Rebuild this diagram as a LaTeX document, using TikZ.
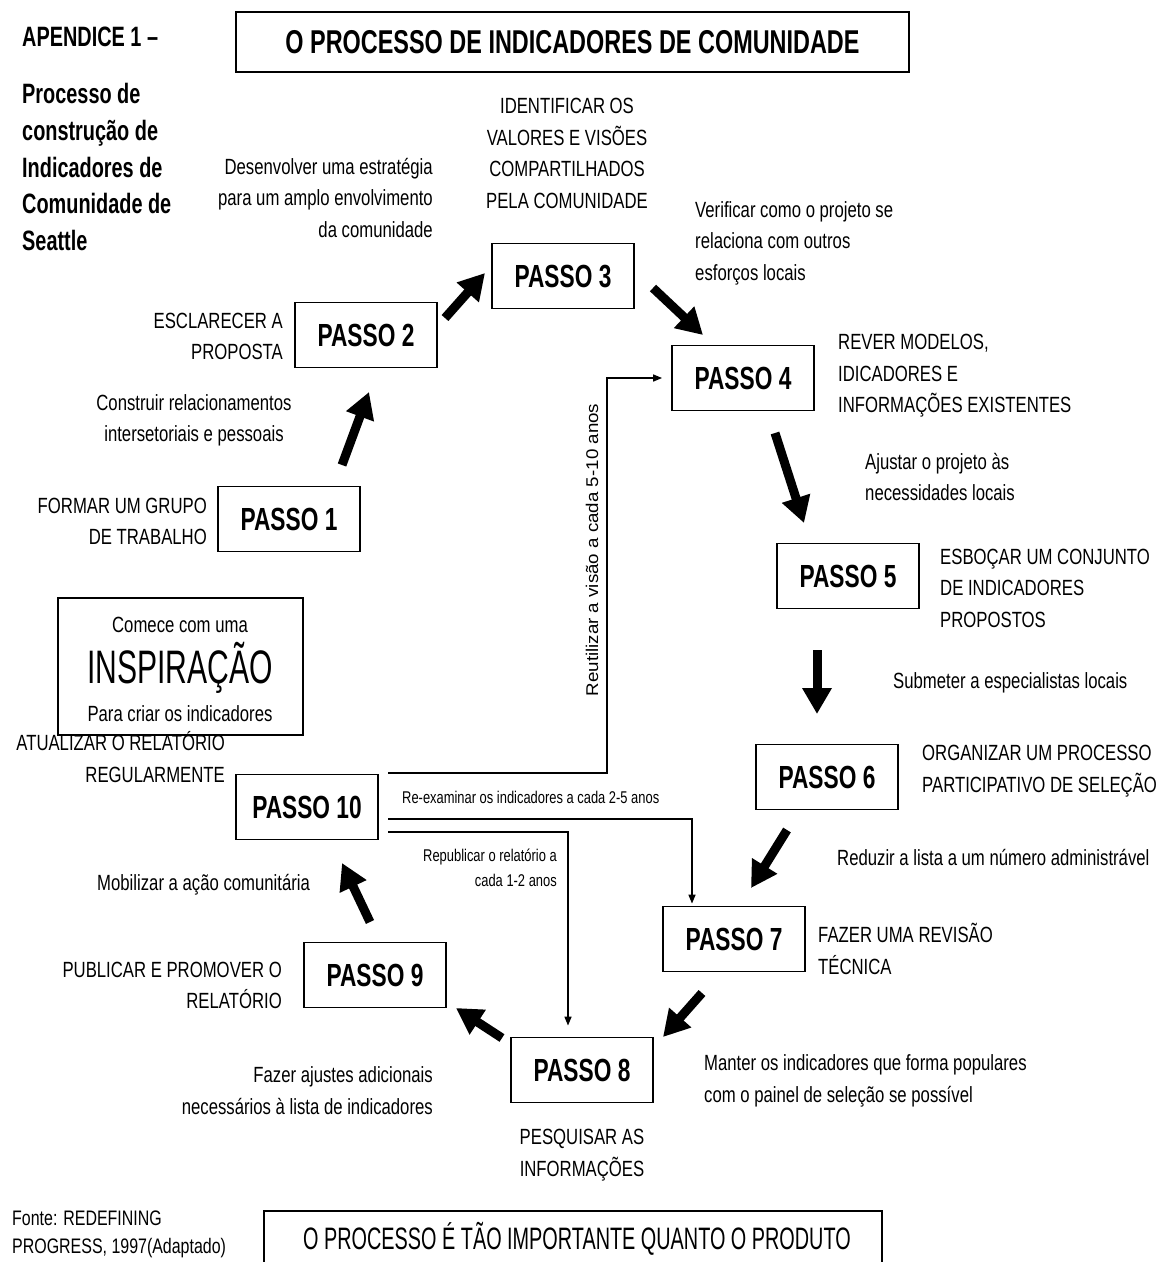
\documentclass[tikz,border=0pt]{standalone}
\usepackage{fontspec}
\usepackage{graphicx}
\setmainfont{Liberation Sans}
\newfontfamily\nf[FakeStretch=0.76]{Liberation Sans}
\newfontfamily\bnf[FakeStretch=0.71]{Liberation Sans}
\newfontfamily\cnf[FakeStretch=0.64]{Liberation Sans}
\usetikzlibrary{arrows.meta}
\tikzset{
  passo/.style={draw, line width=1.8pt, minimum width=142pt, minimum height=65pt, inner sep=0pt,
    font=\bnf\bfseries\fontsize{32}{32}\selectfont},
  lbl/.style={font=\nf\fontsize{22}{31.5}\selectfont, inner sep=0pt},
  smalllbl/.style={font=\nf\fontsize{17}{25}\selectfont, inner sep=0pt},
  bigarrow/.style={-{Triangle[length=26pt,width=28pt]}, line width=9pt},
  thinarrow/.style={-{Triangle[length=9pt,width=7pt]}, line width=1.5pt},
  framebox/.style={draw, line width=1.8pt, inner sep=0pt}
}
\begin{document}
\begin{tikzpicture}[x=1pt,y=-1pt]
\useasboundingbox (0,0) rectangle (1168,1262);
\fill[white] (0,0) rectangle (1168,1262);
\clip (0,0) rectangle (1168,1262);

% title
\node[framebox, minimum width=673pt, minimum height=60pt,
  font=\bnf\bfseries\fontsize{33}{33}\selectfont] (title) at (572.5,42) {O PROCESSO DE INDICADORES DE COMUNIDADE};

\node[anchor=west, inner sep=0pt, font=\bnf\bfseries\fontsize{28}{28}\selectfont] (apx) at (22,37) {APENDICE 1 –};
\node[anchor=west, inner sep=0pt, align=left, font=\bnf\bfseries\fontsize{28}{36.8}\selectfont] (apxsub) at (22,167)
  {Processo de\\construção de\\Indicadores de\\Comunidade de\\Seattle};

% steps
\node[passo] (p1) at (289,519) {PASSO 1};
\node[passo] (p2) at (366,335) {PASSO 2};
\node[passo] (p3) at (563,276) {PASSO 3};
\node[passo] (p4) at (743,378) {PASSO 4};
\node[passo] (p5) at (848,576) {PASSO 5};
\node[passo] (p6) at (827,777) {PASSO 6};
\node[passo] (p7) at (734,939) {PASSO 7};
\node[passo] (p8) at (582,1070) {PASSO 8};
\node[passo] (p9) at (375,975) {PASSO 9};
\node[passo] (p10) at (307,807) {PASSO 10};

% thick arrows
\coordinate (a12s) at (342,465); \coordinate (a12e) at (369,392);
\coordinate (a23s) at (445,318); \coordinate (a23e) at (485,273);
\coordinate (a34s) at (653,288); \coordinate (a34e) at (703,335);
\coordinate (a45s) at (775,433); \coordinate (a45e) at (804,523);
\coordinate (a56s) at (817,650); \coordinate (a56e) at (817,714);
\coordinate (a67s) at (787,830); \coordinate (a67e) at (751,888);
\coordinate (a78s) at (702,993); \coordinate (a78e) at (663,1037);
\coordinate (a89s) at (502,1038); \coordinate (a89e) at (456,1008);
\coordinate (a910s) at (370,922); \coordinate (a910e) at (342,863);
\draw[bigarrow] (a12s) -- (a12e);
\draw[bigarrow] (a23s) -- (a23e);
\draw[bigarrow] (a34s) -- (a34e);
\draw[bigarrow] (a45s) -- (a45e);
\draw[bigarrow] (a56s) -- (a56e);
\draw[bigarrow] (a67s) -- (a67e);
\draw[bigarrow] (a78s) -- (a78e);
\draw[bigarrow] (a89s) -- (a89e);
\draw[bigarrow] (a910s) -- (a910e);

% thin feedback connectors
\coordinate (s1) at (388,773);
\coordinate (s2) at (388,819);
\coordinate (s3) at (388,832);
\draw[thinarrow] (s1) -- (607,773) |- ([xshift=-9pt]p4.west);
\draw[thinarrow] (s2) -| ([xshift=-42pt,yshift=2pt]p7.north);
\draw[thinarrow] (s3) -| ([xshift=-14pt,yshift=11pt]p8.north);

\node[smalllbl, rotate=90] (vis) at (592,550) {\scalebox{1.45}[1]{Reutilizar a visão a cada 5-10 anos}};
\node[smalllbl, anchor=west] (reex) at (402,797) {Re-examinar os indicadores a cada 2-5 anos};
\node[smalllbl, anchor=east, align=right] (repub) at (557,867.5) {Republicar o relatório a\\cada 1-2 anos};

% labels
\node[lbl, anchor=east, align=right] (l1) at (433,198) {Desenvolver uma estratégia\\para um amplo envolvimento\\da comunidade};
\node[lbl, align=center] (l2) at (567,153.5) {IDENTIFICAR OS\\VALORES E VISÕES\\COMPARTILHADOS\\PELA COMUNIDADE};
\node[lbl, anchor=west, align=left] (l3) at (695,243) {Verificar como o projeto se\\relaciona com outros\\esforços locais};
\node[lbl, anchor=east, align=right] (l4) at (283,336.5) {ESCLARECER A\\PROPOSTA};
\node[lbl, anchor=west, align=left] (l5) at (838,376) {REVER MODELOS,\\IDICADORES E\\INFORMAÇÕES EXISTENTES};
\node[lbl, align=center] (l6) at (194,420.5) {Construir relacionamentos\\intersetoriais e pessoais};
\node[lbl, anchor=west, align=left] (l7) at (865,477) {Ajustar o projeto às\\necessidades locais};
\node[lbl, anchor=east, align=right] (l8) at (207,521.5) {FORMAR UM GRUPO\\DE TRABALHO};
\node[lbl, anchor=west, align=left] (l9) at (940,588) {ESBOÇAR UM CONJUNTO\\DE INDICADORES\\PROPOSTOS};
\node[lbl, anchor=west] (l10) at (893,683) {Submeter a especialistas locais};
\node[lbl, anchor=west, align=left] (l12) at (922,771) {ORGANIZAR UM PROCESSO\\PARTICIPATIVO DE SELEÇÃO};
\node[lbl, anchor=west] (l13) at (837,857) {Reduzir a lista a um número administrável};
\node[lbl, anchor=west] (l14) at (97,885) {Mobilizar a ação comunitária};
\node[lbl, anchor=west, align=left] (l15) at (818,949) {FAZER UMA REVISÃO\\TÉCNICA};
\node[lbl, anchor=east, align=right] (l16) at (282,985.5) {PUBLICAR E PROMOVER O\\RELATÓRIO};
\node[lbl, anchor=east, align=right] (l17) at (433,1090.5) {Fazer ajustes adicionais\\necessários à lista de indicadores};
\node[lbl, anchor=west, align=left] (l18) at (704,1081) {Manter os indicadores que forma populares\\com o painel de seleção se possível};
\node[lbl, align=center] (l19) at (582,1155) {PESQUISAR AS\\INFORMAÇÕES};

% inspiration box
\node[draw, line width=1.5pt, minimum width=245pt, minimum height=137pt, inner sep=0pt] (insp) at (180.5,666.5) {};
\node[lbl] (insp1) at (180,625) {Comece com uma};
\node[inner sep=0pt, font=\cnf\fontsize{47}{47}\selectfont] (insp2) at (180,668) {INSPIRAÇÃO};
\node[lbl] (insp3) at (180,714) {Para criar os indicadores};
\node[lbl, anchor=east, align=right] (l11) at (225,757) {ATUALIZAR O RELATÓRIO\\REGULARMENTE};

% footer
\node[anchor=west, inner sep=0pt, align=left, font=\nf\fontsize{21}{28}\selectfont] (fonte) at (12,1234) {Fonte: REDEFINING\\PROGRESS, 1997(Adaptado)};
\node[framebox, minimum width=618pt, minimum height=100pt, anchor=north west] (bottom) at (263,1210) {};
\node[inner sep=0pt, font=\cnf\fontsize{31}{31}\selectfont] (bottomtxt) at (577,1239) {O PROCESSO É TÃO IMPORTANTE QUANTO O PRODUTO};
\end{tikzpicture}
\end{document}
